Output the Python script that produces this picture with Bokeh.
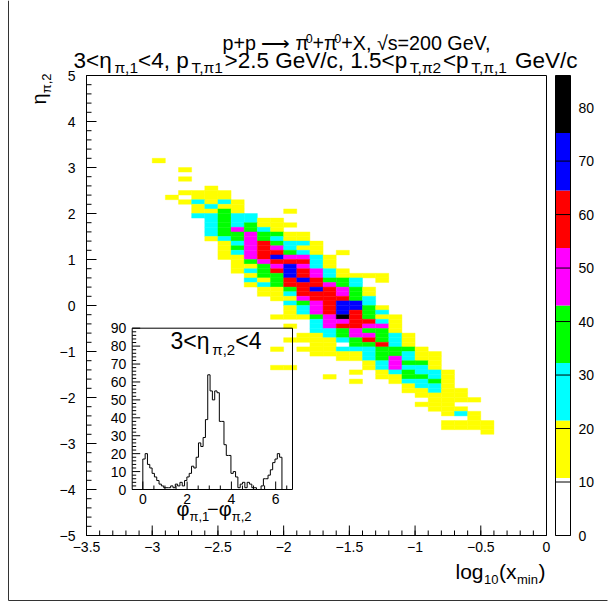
import math
from bokeh.plotting import figure
from bokeh.models import ColumnDataSource, LinearColorMapper, Range1d, Label
from bokeh.core.properties import value
from bokeh.embed import file_html
from bokeh.resources import INLINE

# ------------------------------------------------------------------ data
# 2-D histogram: log10(x_min) (bins of 0.1) vs eta_pi,2 (bins of 0.1)
# one entry per eta row: lower eta edge, lower x edge of first cell, counts of consecutive cells
row_eta = [3.1, 2.9, 2.7, 2.5, 2.4, 2.3, 2.2, 2.1, 2.0, 1.9, 1.8, 1.7, 1.6, 1.5, 1.4, 1.3,
           1.2, 1.1, 1.0, 0.9, 0.8, 0.7, 0.6, 0.5, 0.4, 0.3, 0.2, 0.1, 0.0, -0.1, -0.2,
           -0.3, -0.4, -0.5, -0.6, -0.7, -0.8, -0.9, -1.0, -1.1, -1.2, -1.3, -1.4, -1.5,
           -1.6, -1.7, -1.8, -1.9, -2.0, -2.1, -2.2, -2.3, -2.4, -2.5, -2.6, -2.7, -2.8]
row_x0 = [-3.0, -2.8, -2.8, -2.6, -2.8, -2.9, -2.8, -2.7, -2.7, -2.7, -2.6, -2.6, -2.6, -2.6,
          -2.6, -2.5, -2.5, -2.5, -2.5, -2.4, -2.4, -2.4, -2.3, -2.3, -2.3, -2.2, -2.2, -2.1,
          -2.0, -2.0, -2.0, -2.1, -1.8, -2.0, -1.8, -1.9, -2.0, -1.8, -2.1, -1.8, -1.6, -1.4,
          -2.1, -1.5, -1.7, -1.5, -1.1, -1.1, -1.0, -0.9, -1.0, -0.9, -0.8, -0.6, -0.8, -0.8,
          -0.5]
row_counts = [
    [15],
    [15],
    [15],
    [15],
    [15, 15, 15, 15],
    [15, 0, 15, 15, 15],
    [15, 26, 15, 26, 15],
    [15, 26, 15, 15],
    [15, 15, 37, 15, 0, 0, 0, 15],
    [26, 26, 37, 26, 26],
    [26, 37, 26, 26, 15, 15],
    [26, 37, 26, 37, 15, 15, 15],
    [26, 37, 48, 37, 26, 15],
    [26, 37, 37, 48, 37, 37, 15, 15],
    [15, 26, 37, 48, 37, 26, 15, 15],
    [15, 26, 48, 59, 37, 26, 26, 15],
    [15, 37, 48, 59, 48, 26, 15, 15],
    [15, 26, 48, 59, 59, 37, 26, 15, 0, 15],
    [15, 15, 48, 59, 69, 48, 48, 26, 15],
    [15, 37, 48, 59, 59, 59, 26, 15],
    [15, 15, 37, 48, 69, 48, 26, 15],
    [15, 26, 37, 59, 69, 59, 48, 26, 15],
    [15, 37, 37, 69, 59, 48, 26, 15, 15, 15, 15],
    [26, 15, 37, 59, 69, 59, 37, 37, 26, 0, 15],
    [15, 26, 37, 59, 59, 59, 48, 37, 26],
    [15, 15, 37, 59, 69, 59, 48, 37, 15],
    [15, 15, 26, 59, 59, 59, 48, 37, 15],
    [15, 15, 48, 59, 59, 59, 37, 26],
    [26, 37, 48, 59, 69, 69, 26],
    [15, 26, 48, 59, 69, 69, 37, 15],
    [15, 26, 48, 59, 69, 59, 37, 26],
    [15, 15, 15, 37, 48, 80, 59, 37, 15, 15],
    [26, 48, 48, 59, 59, 26, 15],
    [15, 0, 26, 48, 59, 59, 48, 48, 15],
    [26, 26, 37, 48, 37, 37, 15],
    [15, 15, 26, 37, 48, 48, 37, 26, 15],
    [15, 15, 15, 15, 26, 37, 59, 37, 26, 15],
    [15, 15, 0, 37, 37, 59, 26, 15],
    [15, 0, 15, 15, 15, 26, 26, 26, 37, 37, 37, 15],
    [15, 15, 15, 15, 26, 37, 37, 26, 15, 15],
    [15, 15, 26, 37, 48, 26, 15, 15],
    [15, 26, 48, 37, 37, 15],
    [15, 15, 0, 0, 0, 0, 0, 15, 26, 48, 26, 26, 15],
    [15, 0, 15, 26, 37, 26, 26, 15],
    [15, 0, 0, 0, 15, 15, 37, 37, 26, 15],
    [15, 0, 0, 15, 26, 26, 37, 15],
    [15, 26, 26, 15],
    [15, 15, 26, 15, 15],
    [15, 15, 15, 15],
    [15, 15, 15, 15],
    [15, 15, 15],
    [15, 15, 15],
    [15, 26, 15],
    [15],
    [15, 15, 15, 15],
    [15, 15, 15, 15],
    [15],
]
z_max = 86
level_colors = ["#ffffff", "#ffff00", "#00ffff", "#00ff00", "#ff00ff", "#ff0000", "#0000ff", "#000000"]
cb_ticks = [0, 10, 20, 30, 40, 50, 60, 70, 80]

x_ticks = [-3.5, -3.0, -2.5, -2.0, -1.5, -1.0, -0.5, 0.0]
x_tick_labels = ["\u22123.5", "\u22123", "\u22122.5", "\u22122", "\u22121.5", "\u22121", "\u22120.5", "0"]
y_ticks = [-5, -4, -3, -2, -1, 0, 1, 2, 3, 4, 5]
y_tick_labels = ["\u22125", "\u22124", "\u22123", "\u22122", "\u22121", "0", "1", "2", "3", "4", "5"]

# inset: phi_pi,1 - phi_pi,2 for 3<eta_pi,2<4, 60 bins on [0, 2 pi]
dphi_counts = [17, 20, 14, 12, 9, 7, 5, 3, 2, 1, 1, 1, 2, 1, 3, 2, 4, 2, 5, 7,
               9, 13, 12, 18, 26, 24, 29, 39, 64, 55, 50, 55, 54, 38, 38, 25, 19, 19, 9, 10,
               7, 1, 3, 4, 1, 4, 3, 1, 1, 0, 0, 2, 6, 6, 8, 11, 15, 17, 20, 18]
inset_y_ticks = [0, 10, 20, 30, 40, 50, 60, 70, 80, 90]
inset_x_ticks = [0, 2, 4, 6]

# ------------------------------------------------------------------ layout
W, H = 613, 615
FL, FR, FT, FB = 86, 546, 75, 535           # main frame (pixels)
XMIN, XMAX, YMIN, YMAX = -3.5, 0.0, -5.0, 5.0
PXX = (FR - FL) / (XMAX - XMIN)
PXY = (FB - FT) / (YMAX - YMIN)
IL, IR, IT, IB = 131.7, 292.0, 327.7, 489.0  # inset frame (pixels)
PHI_LO, PHI_HI = -0.48, 6.76
CNT_LO, CNT_HI = 0.0, 90.0
SXP = (IR - IL) / (PHI_HI - PHI_LO)
SYP = (IB - IT) / (CNT_HI - CNT_LO)
CBL, CBR = 555, 570                          # colour bar (pixels)
ZPX = (FB - FT) / z_max
FONT = "Liberation Sans"
BASE_SHIFT = 0.36                            # label anchor correction (fraction of font size)

# canvas = frame; default ranges are pixels (y downwards)
p = figure(width=W, height=H, x_range=Range1d(0, W), y_range=Range1d(H, 0),
           x_axis_type=None, y_axis_type=None, title=None,
           output_backend="svg", toolbar_location=None, min_border=0)
p.outline_line_color = None
p.background_fill_color = "white"
p.border_fill_color = "white"
p.extra_x_ranges = {
    "lx": Range1d(XMIN - FL / PXX, XMAX + (W - FR) / PXX),
    "phi": Range1d(PHI_LO - IL / SXP, PHI_HI + (W - IR) / SXP),
}
p.extra_y_ranges = {
    "eta": Range1d(YMIN - (H - FB) / PXY, YMAX + FT / PXY),
    "cnt": Range1d(CNT_LO - (H - IB) / SYP, CNT_HI + IT / SYP),
    "z": Range1d(-(H - FB) / ZPX, z_max + FT / ZPX),
}
M = dict(x_range_name="lx", y_range_name="eta")
I = dict(x_range_name="phi", y_range_name="cnt")

mapper = LinearColorMapper(palette=level_colors, low=0, high=z_max)

# ---- main 2-D histogram
cx, cy, cc = [], [], []
for eta0, x0, row in zip(row_eta, row_x0, row_counts):
    for i, c in enumerate(row):
        if c > 0:
            cx.append(x0 + 0.1 * i + 0.05)
            cy.append(eta0 + 0.05)
            cc.append(c)
src = ColumnDataSource(dict(x=cx, y=cy, c=cc))
p.rect(x="x", y="y", width=0.1, height=0.1, source=src,
       fill_color={"field": "c", "transform": mapper},
       line_color={"field": "c", "transform": mapper}, line_width=0.4, **M)

# main frame
p.quad(left=[XMIN], right=[XMAX], bottom=[YMIN], top=[YMAX], fill_color=None,
       line_color="black", line_width=1, **M)

# main axes ticks + labels
TK, TKm = 10, 5
xminor = [round(XMIN + 0.1 * i, 2) for i in range(36)]
yminor = [round(YMIN + 0.2 * i, 2) for i in range(51)]
p.segment(x0=x_ticks, y0=[YMIN] * len(x_ticks), x1=x_ticks, y1=[YMIN + TK / PXY] * len(x_ticks),
          line_color="black", **M)
p.segment(x0=xminor, y0=[YMIN] * len(xminor), x1=xminor, y1=[YMIN + TKm / PXY] * len(xminor),
          line_color="black", **M)
p.segment(x0=[XMIN] * len(y_ticks), y0=y_ticks, x1=[XMIN + TK / PXX] * len(y_ticks), y1=y_ticks,
          line_color="black", **M)
p.segment(x0=[XMIN] * len(yminor), y0=yminor, x1=[XMIN + TKm / PXX] * len(yminor), y1=yminor,
          line_color="black", **M)
p.text(x=x_ticks, y=[YMIN - 6 / PXY] * len(x_ticks), text=x_tick_labels, text_align="center",
       text_baseline="top", text_font=value(FONT), text_font_size="14px", text_color="black", **M)
p.text(x=[XMIN - 11 / PXX] * len(y_ticks), y=y_ticks, text=y_tick_labels, text_align="right",
       text_baseline="middle", text_font=value(FONT), text_font_size="14px", text_color="black", **M)

# ---- colour bar
nlev = len(level_colors)
zb = [z_max * i / nlev for i in range(nlev)]
zt = [z_max * (i + 1) / nlev for i in range(nlev)]
p.quad(left=[CBL] * nlev, right=[CBR] * nlev, bottom=zb, top=zt, fill_color=level_colors,
       line_color=None, y_range_name="z")
p.quad(left=[CBL], right=[CBR], bottom=[0], top=[z_max], fill_color=None, line_color="black",
       y_range_name="z")
p.segment(x0=[CBL] * len(cb_ticks), y0=cb_ticks, x1=[CBR] * len(cb_ticks), y1=cb_ticks,
          line_color="black", y_range_name="z")
p.text(x=[CBR + 8] * len(cb_ticks), y=cb_ticks, text=[str(t) for t in cb_ticks],
       text_align="left", text_baseline="middle", text_font=value(FONT), text_font_size="14px",
       text_color="black", y_range_name="z")

# ---- text helpers (pixel coordinates, py = baseline)
CW = {c: 556 for c in "0123456789"}
CW.update({"<": 584, ">": 584, "=": 584, "+": 584, "\u2212": 584, ",": 278, ".": 278, " ": 278,
           "/": 278, "(": 333, ")": 333, "p": 556, "G": 778, "e": 556, "V": 667, "c": 500,
           "T": 611, "X": 667, "s": 500, "l": 222, "o": 556, "g": 556, "x": 500, "m": 833,
           "i": 222, "n": 556, "\u03b7": 560, "\u03c0": 520, "\u03c6": 650, "\u221a": 549,
           "\u27f6": 1450})


def tw(s, size):
    return sum(CW.get(ch, 556) for ch in s) * size / 1000.0


def lab(px, py, text, size, angle=0.0):
    # SVG drops leading blanks: move the anchor instead
    lead = len(text) - len(text.lstrip(" "))
    text = text.lstrip(" ")
    if angle:
        px -= BASE_SHIFT * size
        py -= lead * CW[" "] * size / 1000.0
    else:
        py -= BASE_SHIFT * size
        px += lead * CW[" "] * size / 1000.0
    p.add_layout(Label(x=px, y=py, text=text, text_font=FONT, text_font_size=f"{size}px",
                       text_align="left", text_baseline="alphabetic", angle=angle,
                       text_color="black"))


def seq(x0, base, pieces, fs=20, ss=13, x1=None, sub_dy=5, sup_dy=-9):
    sizes = [fs if k == "n" else ss for _, k in pieces]
    natural = sum(tw(t, s) for (t, _), s in zip(pieces, sizes))
    n = len(pieces) - 1
    gap = 0.0 if (x1 is None or n == 0) else (x1 - x0 - natural) / n
    x = x0
    for (text, kind), size in zip(pieces, sizes):
        dy = 0 if kind == "n" else (sub_dy if kind == "sub" else sup_dy)
        lab(x, base + dy, text, size)
        x += tw(text, size) + gap
    return x


# title
seq(222, 50, [("p+p ", "n"), ("\u27f6", "n"), (" \u03c0", "n"), ("0", "sup"), ("+\u03c0", "n"),
              ("0", "sup"), ("+X, \u221as=200 GeV,", "n")], fs=19.7, ss=12.5, sup_dy=-8)
seq(73, 68, [("3<\u03b7", "n"), ("\u03c0,1", "sub"), ("<4, p", "n"), ("T,\u03c01", "sub"),
             (">2.5 GeV/c, 1.5<p", "n"), ("T,\u03c02", "sub"), ("<p", "n"), ("T,\u03c0,1", "sub"),
             (" GeV/c", "n")], fs=22.5, ss=15.5, x1=577)

# x axis title (right aligned at frame edge)
seq(455, 579, [("log", "n"), ("10", "sub"), ("(x", "n"), ("min", "sub"), (")", "n")],
    fs=21, ss=13, x1=545)

# y axis title (rotated, reading upwards, ending at frame top)
eta_w = tw("\u03b7", 20)
lab(46, 104, "\u03b7", 20, angle=math.pi / 2)
lab(51, 104 - eta_w, "\u03c0,2", 13, angle=math.pi / 2)

# ---- inset
p.quad(left=[PHI_LO], right=[PHI_HI], bottom=[CNT_LO], top=[CNT_HI], fill_color=None,
       line_color="black", line_width=1, **I)
nb = len(dphi_counts)
edges = [2 * math.pi * i / nb for i in range(nb + 1)]
hx, hy = [edges[0]], [0]
for i, c in enumerate(dphi_counts):
    hx += [edges[i], edges[i + 1]]
    hy += [c, c]
hx.append(edges[-1])
hy.append(0)
p.line(hx, hy, line_color="black", line_width=1, **I)

ymin_t = [t for t in range(0, 91, 2) if t % 10]
xmin_t = [v * 0.5 for v in range(0, 14) if v % 4]
p.segment(x0=[PHI_LO] * len(inset_y_ticks), y0=inset_y_ticks,
          x1=[PHI_LO + 8 / SXP] * len(inset_y_ticks), y1=inset_y_ticks, line_color="black", **I)
p.segment(x0=[PHI_LO] * len(ymin_t), y0=ymin_t, x1=[PHI_LO + 4 / SXP] * len(ymin_t), y1=ymin_t,
          line_color="black", **I)
p.segment(x0=inset_x_ticks, y0=[0] * len(inset_x_ticks), x1=inset_x_ticks,
          y1=[8 / SYP] * len(inset_x_ticks), line_color="black", **I)
p.segment(x0=xmin_t, y0=[0] * len(xmin_t), x1=xmin_t, y1=[4 / SYP] * len(xmin_t),
          line_color="black", **I)
p.text(x=[PHI_LO - 6 / SXP] * len(inset_y_ticks), y=inset_y_ticks,
       text=[str(t) for t in inset_y_ticks], text_align="right", text_baseline="middle",
       text_font=value(FONT), text_font_size="14px", text_color="black", **I)
p.text(x=inset_x_ticks, y=[-4 / SYP] * len(inset_x_ticks), text=[str(t) for t in inset_x_ticks],
       text_align="center", text_baseline="top", text_font=value(FONT), text_font_size="14px",
       text_color="black", **I)

seq(170, 349, [("3<\u03b7", "n"), ("\u03c0,2", "sub"), ("<4", "n")], fs=23, ss=15, x1=261)
seq(176, 516, [("\u03c6", "n"), ("\u03c0,1", "sub"), ("\u2212\u03c6", "n"), ("\u03c0,2", "sub")],
    fs=20, ss=13)

# ---- page border (left and bottom)
p.segment(x0=[8, 8], y0=[0, 600], x1=[8, 607], y1=[600, 600], line_color="#333333", line_width=1)

open("out.html", "w").write(file_html(p, INLINE))
